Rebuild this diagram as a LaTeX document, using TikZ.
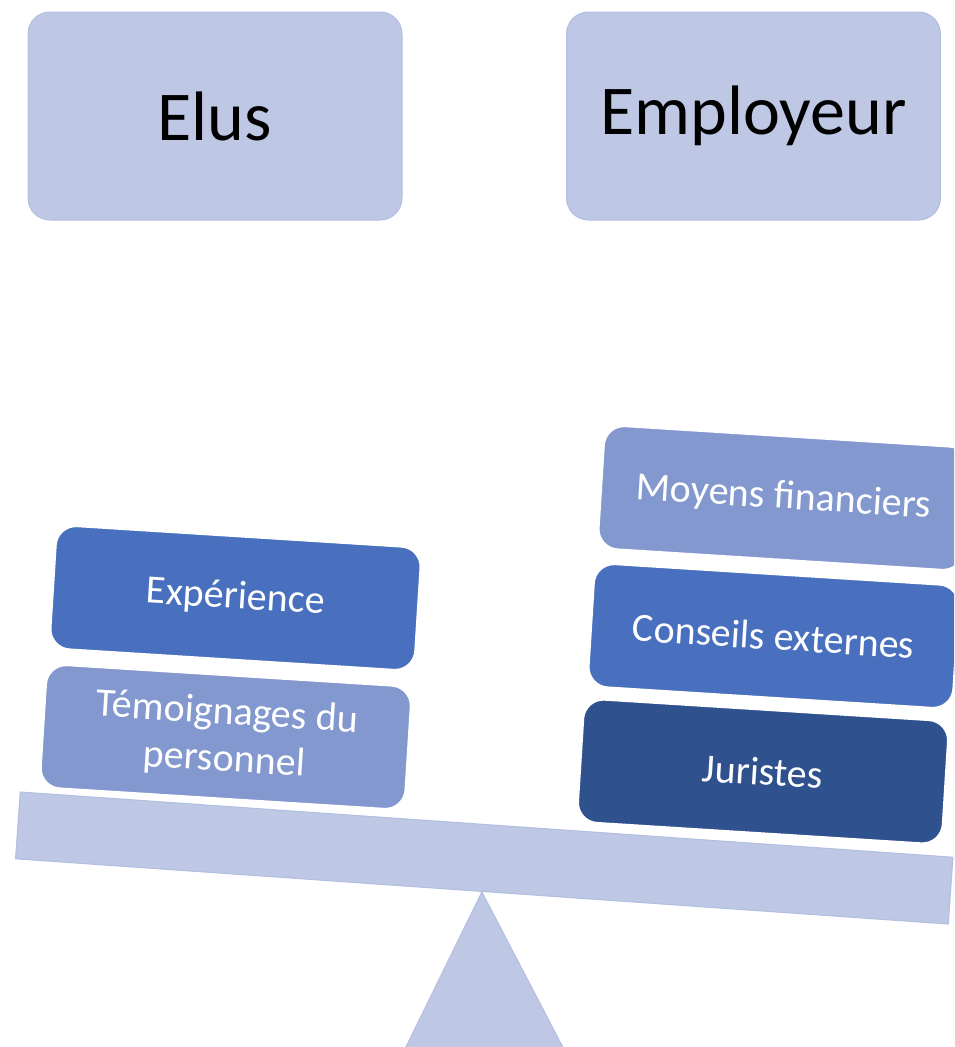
\documentclass[tikz,border=0pt]{standalone}
\usepackage{fontspec}
\setmainfont{Carlito}
\usepackage{tikz}

\definecolor{balpale}{RGB}{190,199,228}
\definecolor{balline}{RGB}{178,190,226}
\definecolor{ballight}{RGB}{130,152,206}
\definecolor{balmid}{RGB}{73,112,190}
\definecolor{baldark}{RGB}{47,82,143}

\begin{document}
\begin{tikzpicture}[x=1pt, y=-1pt,
        side/.style={draw=balline, fill=balpale, rounded corners=22pt, line width=1pt,
            minimum width=374pt, minimum height=208pt, inner sep=0pt,
            font=\fontsize{70}{84}\selectfont},
        weight/.style={draw=white, line width=1.5pt, rounded corners=20pt, rotate=-3.6,
            minimum width=365pt, minimum height=123pt, inner sep=0pt, align=center,
            text=white, font=\fontsize{40}{44}\selectfont}]
            \useasboundingbox (0, 0) rectangle (954, 1047);
            \clip (0, 0) rectangle (954, 1047);

            \node (elus) at (215, 116) [side] {Elus};
            \node (employeur) at (753.5, 116) [side] {Employeur};

            \node (beam) at (484.25, 858) [draw=balline, fill=balpale, line width=1pt,
                rotate=-4, minimum width=935pt, minimum height=67pt, inner sep=0pt] {};
            \filldraw [draw=balline, fill=balpale, line width=1pt]
                (beam.south) -- (401, 1057) -- (568, 1057) -- cycle;

            \node (experience) at (235.5, 598) [weight, fill=balmid] {Expérience};
            \node (temoignages) at (225.75, 737) [weight, fill=ballight] {Témoignages du\\[3pt]personnel};

            \node (moyens) at (783.6, 498) [weight, fill=ballight] {Moyens financiers};
            \node (conseils) at (773.6, 636) [weight, fill=balmid] {Conseils externes};
            \node (juristes) at (763, 771.5) [weight, fill=baldark] {Juristes};
        \end{tikzpicture}
\end{document}
